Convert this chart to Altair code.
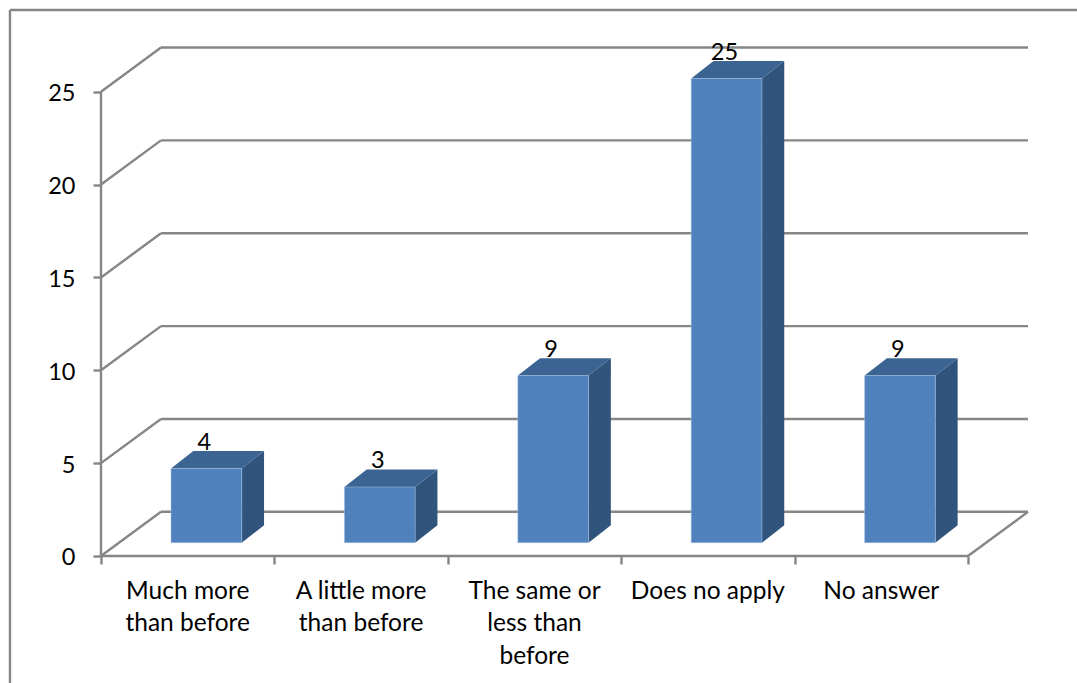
import altair as alt
import pandas as pd

# Survey answers and their counts
categories = ["Much more than before", "A little more than before",
              "The same or less than before", "Does no apply", "No answer"]
values = [4, 3, 9, 25, 9]
wrapped_labels = ["Much more\nthan before", "A little more\nthan before",
                  "The same or\nless than\nbefore", "Does no apply", "No answer"]
y_ticks = [0, 5, 10, 15, 20, 25]
x_ticks = [0, 1, 2, 3, 4, 5]

# Oblique projection, in axis units (one category wide, one count tall)
WALL_DX, WALL_DY = 0.346, 2.38
BAR_DX, BAR_DY = 0.1286, 0.937
BAR_START, BAR_WIDTH = 0.4037, 0.408
BAR_FLOOR = 0.716

GRID = "#868686"
FONT = "Lato"
FONT_SIZE = 24.5
DIGIT_SIZE = 23.5
LINE = 2.4

x_scale = alt.Scale(domain=[0, 5.6286], nice=False, zero=False)
y_scale = alt.Scale(domain=[-6.839, 29.94], nice=False, zero=False)

x_axis = alt.Axis(values=x_ticks, labels=False, title=None, grid=False, domain=False,
                  ticks=True, tickColor=GRID, tickWidth=LINE, tickSize=8, offset=-127)
y_axis = alt.Axis(values=y_ticks, title=None, grid=False, domain=False,
                  ticks=True, tickColor=GRID, tickWidth=LINE, tickSize=8, labelPadding=18,
                  labelOffset=2, labelFont=FONT, labelFontSize=DIGIT_SIZE, labelColor="#000000")


def enc_x(field="x"):
    return alt.X(f"{field}:Q", scale=x_scale, axis=x_axis)


def enc_y(field="y"):
    return alt.Y(f"{field}:Q", scale=y_scale, axis=y_axis)


def rules(frame, width=LINE):
    return alt.Chart(frame).mark_rule(color=GRID, strokeWidth=width).encode(
        x=enc_x(), x2="x2:Q", y=enc_y(), y2="y2:Q")


# Outer frame of the chart area
frame_rules = pd.DataFrame([
    {"x": -0.525, "x2": 5.63, "y": 29.40, "y2": 29.40},
    {"x": -0.525, "x2": -0.525, "y": 29.40, "y2": -6.84},
])

# Back wall gridlines, their slanted returns to the axis, floor and axis lines
wall_rows = []
for v in y_ticks:
    wall_rows.append({"x": WALL_DX, "x2": 5 + WALL_DX, "y": v + WALL_DY, "y2": v + WALL_DY})
    wall_rows.append({"x": 0, "x2": WALL_DX, "y": v, "y2": v + WALL_DY})
wall_rows.append({"x": 5, "x2": 5 + WALL_DX, "y": 0, "y2": WALL_DY})
wall_rows.append({"x": 0, "x2": 5, "y": 0, "y2": 0})
wall_rows.append({"x": 0, "x2": 0, "y": 0, "y2": 25})
walls = pd.DataFrame(wall_rows)

# Bar faces
fronts, sides, tops, labels = [], [], [], []
for i, (cat, val) in enumerate(zip(categories, values)):
    left = i + BAR_START
    right = left + BAR_WIDTH
    base = BAR_FLOOR
    top = val + BAR_FLOOR
    fronts.append({"cat": cat, "x": left, "x2": right, "y": base, "y2": top})
    sides.append({"cat": cat, "x": right, "y": base, "y2": top})
    sides.append({"cat": cat, "x": right + BAR_DX, "y": base + BAR_DY, "y2": top + BAR_DY})
    tops.append({"cat": cat, "y": top, "x": left, "x2": right})
    tops.append({"cat": cat, "y": top + BAR_DY, "x": left + BAR_DX, "x2": right + BAR_DX})
    labels.append({"x": left + BAR_WIDTH / 2 - 0.012, "y": top + BAR_DY + 0.07, "label": str(val)})

front_layer = alt.Chart(pd.DataFrame(fronts)).mark_rect(
    color="#4F81BD", stroke="#A9C3E3", strokeWidth=0.5).encode(
    x=enc_x(), x2="x2:Q", y=enc_y(), y2="y2:Q")

side_layer = alt.Chart(pd.DataFrame(sides)).mark_area(color="#31547D", interpolate="linear").encode(
    x=enc_x(), y=enc_y(), y2="y2:Q", detail="cat:N")

top_layer = alt.Chart(pd.DataFrame(tops)).mark_area(
    color="#3C6492", orient="horizontal", interpolate="linear").encode(
    y=enc_y(), x=enc_x(), x2="x2:Q", detail="cat:N")

value_labels = alt.Chart(pd.DataFrame(labels)).mark_text(
    font=FONT, fontSize=DIGIT_SIZE, color="#000000", baseline="alphabetic", align="center").encode(
    x=enc_x(), y=enc_y(), text="label:N")

category_labels = alt.Chart(pd.DataFrame({
    "x": [i + 0.5 for i in range(len(wrapped_labels))],
    "y": [-2.295] * len(wrapped_labels),
    "label": wrapped_labels,
})).mark_text(
    font=FONT, fontSize=FONT_SIZE, color="#000000", baseline="alphabetic", align="center",
    lineBreak="\n", lineHeight=32.5).encode(
    x=enc_x(), y=enc_y(), text="label:N")

chart = alt.layer(
    rules(frame_rules), rules(walls),
    side_layer, top_layer, front_layer, value_labels, category_labels,
).properties(
    width=976, height=683,
    background="#FFFFFF",
    padding={"left": 101, "top": 0, "right": 0, "bottom": 0},
    autosize=alt.AutoSizeParams(type="none"),
).configure_view(stroke=None)

chart.save("out.html", embed_options={"renderer": "svg", "actions": False})
